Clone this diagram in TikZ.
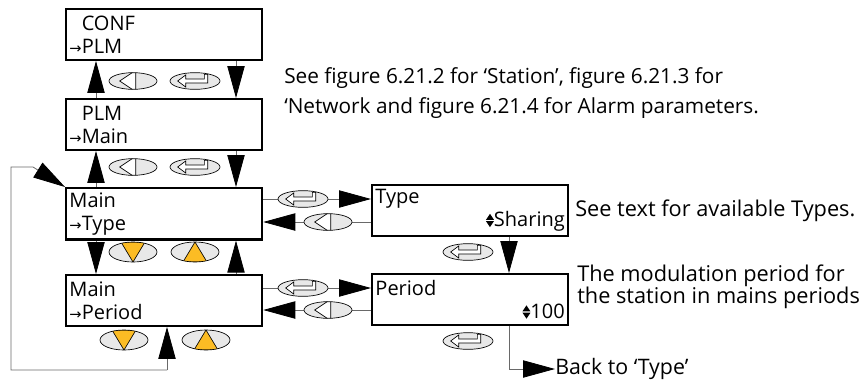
\documentclass[tikz,border=0pt]{standalone}
\usepackage{fontspec}
\setmainfont{Open Sans}
\newfontfamily\symfont{DejaVu Sans}
\usetikzlibrary{arrows.meta,positioning,calc,shapes.geometric}
\definecolor{keygray}{RGB}{232,232,232}
\definecolor{keyorange}{RGB}{252,188,36}
\definecolor{wiregray}{RGB}{105,105,105}
\newcommand{\sel}{{\symfont\fontsize{11}{11}\selectfont →}}
\newcommand{\updn}{\tikz[baseline=0pt]{\fill (-3pt,5.3pt)--(3pt,5.3pt)--(0pt,9.8pt)--cycle; \fill (-3pt,4.3pt)--(3pt,4.3pt)--(0pt,-0.2pt)--cycle;}}

\begin{document}
\begin{tikzpicture}[
      x=0.75pt, y=-0.75pt,
      lcd/.style={rectangle, draw, line width=1.7pt, anchor=north west, minimum width=147pt,
        minimum height=38pt, inner xsep=2.5pt, text width=142pt, align=left,
        font=\fontsize{15}{17.25}\selectfont},
      note/.style={anchor=west, align=left, inner sep=0pt},
      key/.style={ellipse, draw, line width=0.5pt, fill=keygray, minimum width=36pt,
        minimum height=12.5pt, inner sep=0pt},
      backkey/.style={key, path picture={
        \draw[shift={(path picture bounding box.center)}, fill=white, line width=0.5pt]
          (-10pt,0pt) -- (2pt,8pt) -- (2pt,-8pt) -- cycle;}},
      enterkey/.style={key, minimum width=37.5pt, path picture={
        \draw[shift={(path picture bounding box.center)}, fill=white, line width=0.5pt]
          (-13pt,0pt) -- (-7pt,4.5pt) -- (-7pt,1.5pt) -- (7pt,1.5pt) -- (7pt,5pt)
          -- (9.5pt,5pt) -- (9.5pt,-1.5pt) -- (-7pt,-1.5pt) -- (-7pt,-4.5pt) -- cycle;}},
      downkey/.style={key, minimum height=15pt, path picture={
        \draw[shift={(path picture bounding box.center)}, fill=keyorange, line width=0.5pt]
          (-9pt,7.5pt) -- (9pt,7.5pt) -- (0pt,-7.5pt) -- cycle;}},
      upkey/.style={key, minimum height=15pt, path picture={
        \draw[shift={(path picture bounding box.center)}, fill=keyorange, line width=0.5pt]
          (-9pt,-7.5pt) -- (9pt,-7.5pt) -- (0pt,7.5pt) -- cycle;}},
      wire/.style={line width=0.6pt, draw=wiregray},
      arr/.style={wire, -{Triangle[length=24pt, width=13pt, black]}}
    ]
      \useasboundingbox (0,0) rectangle (868,383);

      % menu boxes
      \node[lcd] (conf) at (65,8) {\phantom{\sel}CONF\\\sel PLM};
      \node[lcd] (plm) at (65,98) {\phantom{\sel}PLM\\\sel Main};
      \node[lcd] (mtype) at (65,187) {Main\\\sel Type};
      \node[lcd] (mper) at (65,274) {Main\\\sel Period};
      \node[lcd] (type) at (371,184) {Type\\\mbox{}\hfill\updn Sharing};
      \node[lcd] (per) at (371,273) {Period\\\mbox{}\hfill\updn 100};

      % up / down the list
      \draw[arr] (plm.north west) ++(31,0) coordinate (u1) -- (u1 |- conf.south);
      \draw[arr] (conf.south west) ++(171,0) coordinate (d1) -- (d1 |- plm.north);
      \draw[arr] (mtype.north west) ++(31,0) coordinate (u2) -- (u2 |- plm.south);
      \draw[arr] (plm.south west) ++(171,0) coordinate (d2) -- (d2 |- mtype.north);
      \draw[arr] (mtype.south west) ++(31,0) coordinate (d3) -- (d3 |- mper.north);
      \draw[arr] (mper.north west) ++(171,0) coordinate (u3) -- (u3 |- mtype.south);

      % wrap round
      \coordinate (loop) at (167,370);
      \draw[arr] (loop) -- (loop |- mper.south);
      \draw[arr] (loop) -| (11,167) -- (33,167) -- (mtype.north west);

      % into the parameters
      \draw[arr] (mtype.north east) ++(0,12) coordinate (r1) -- (r1 -| type.west);
      \draw[arr] (mtype.north east) ++(0,35) coordinate (r2) (r2 -| type.west) -- (r2);
      \draw[arr] (mper.north east) ++(0,14) coordinate (r3) -- (r3 -| per.west);
      \draw[arr] (mper.north east) ++(0,36) coordinate (r4) (r4 -| per.west) -- (r4);
      \draw[arr] (type.south west) ++(138,0) coordinate (v1) -- (v1 |- per.north);
      \node[note, font=\fontsize{16}{17}\selectfont] (back) at (555,369) {Back to ‘Type’};
      \draw[arr] (per.south west) ++(138,0) coordinate (v2) |- (back.west);

      % keys
      \node[backkey] (k1) at (133,81) {};
      \node[enterkey] (k2) at (195,81) {};
      \node[backkey] (k3) at (133,167) {};
      \node[enterkey] (k4) at (195,167) {};
      \node[downkey] (k5) at (133,252) {};
      \node[upkey] (k6) at (195,252) {};
      \node[downkey] (k7) at (124,340) {};
      \node[upkey] (k8) at (206,340) {};
      \node[enterkey] (k9) at (303,199) {};
      \node[backkey] (k10) at (328,222) {};
      \node[enterkey] (k11) at (303,288) {};
      \node[backkey] (k12) at (328,310) {};
      \node[enterkey] (k13) at (468,252) {};
      \node[enterkey] (k14) at (468,341) {};

      % remarks
      \node[note, font=\fontsize{15.6}{22.5}\selectfont] (seefig) at (284,93)
        {See figure 6.21.2 for ‘Station’, figure 6.21.3 for\\‘Network and figure 6.21.4 for Alarm parameters.};
      \node[note, font=\fontsize{16.3}{17}\selectfont] (seetxt) at (575,211) {See text for available Types.};
      \node[note, font=\fontsize{16.3}{16.5}\selectfont] (modtxt) at (577,287)
        {The modulation period for\\the station in mains periods};
    \end{tikzpicture}
\end{document}
